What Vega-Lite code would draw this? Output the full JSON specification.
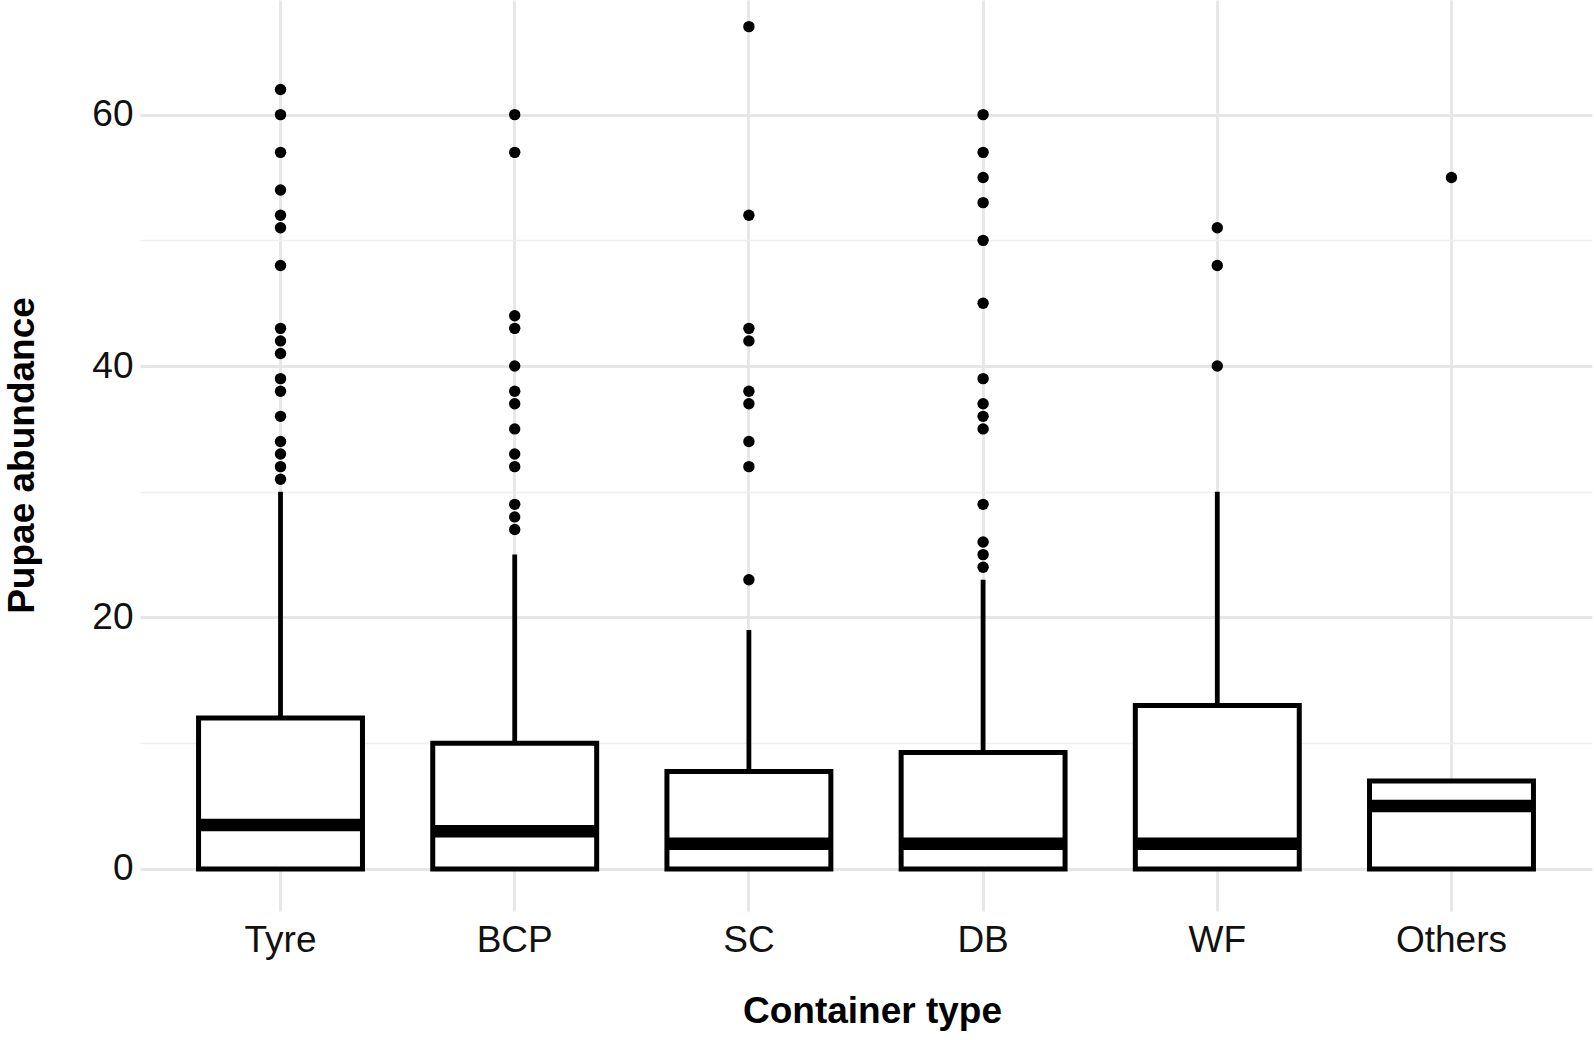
{
  "$schema": "https://vega.github.io/schema/vega-lite/v6.json",
  "autosize": {"type": "none"},
  "padding": {"left": 140, "top": 0, "right": 2, "bottom": 129},
  "width": 1452,
  "height": 911,
  "background": "white",
  "config": {
    "view": {"stroke": null},
    "font": "Liberation Sans"
  },
  "datasets": {
    "stats": [
      {"type": "Tyre", "lower": 0, "q1": 0, "median": 3.5, "q3": 12, "upper": 30},
      {"type": "BCP", "lower": 0, "q1": 0, "median": 3, "q3": 10, "upper": 25},
      {"type": "SC", "lower": 0, "q1": 0, "median": 2, "q3": 7.75, "upper": 19},
      {"type": "DB", "lower": 0, "q1": 0, "median": 2, "q3": 9.25, "upper": 23},
      {"type": "WF", "lower": 0, "q1": 0, "median": 2, "q3": 13, "upper": 30},
      {"type": "Others", "lower": 0, "q1": 0, "median": 5, "q3": 7, "upper": 7}
    ],
    "outliers": [
      {"type": "Tyre", "value": 62}, {"type": "Tyre", "value": 60}, {"type": "Tyre", "value": 57},
      {"type": "Tyre", "value": 54}, {"type": "Tyre", "value": 52}, {"type": "Tyre", "value": 51},
      {"type": "Tyre", "value": 48}, {"type": "Tyre", "value": 43}, {"type": "Tyre", "value": 42},
      {"type": "Tyre", "value": 41}, {"type": "Tyre", "value": 39}, {"type": "Tyre", "value": 38},
      {"type": "Tyre", "value": 36}, {"type": "Tyre", "value": 34}, {"type": "Tyre", "value": 33},
      {"type": "Tyre", "value": 32}, {"type": "Tyre", "value": 31},
      {"type": "BCP", "value": 60}, {"type": "BCP", "value": 57}, {"type": "BCP", "value": 44},
      {"type": "BCP", "value": 43}, {"type": "BCP", "value": 40}, {"type": "BCP", "value": 38},
      {"type": "BCP", "value": 37}, {"type": "BCP", "value": 35}, {"type": "BCP", "value": 33},
      {"type": "BCP", "value": 32}, {"type": "BCP", "value": 29}, {"type": "BCP", "value": 28},
      {"type": "BCP", "value": 27},
      {"type": "SC", "value": 67}, {"type": "SC", "value": 52}, {"type": "SC", "value": 43},
      {"type": "SC", "value": 42}, {"type": "SC", "value": 38}, {"type": "SC", "value": 37},
      {"type": "SC", "value": 34}, {"type": "SC", "value": 32}, {"type": "SC", "value": 23},
      {"type": "DB", "value": 60}, {"type": "DB", "value": 57}, {"type": "DB", "value": 55},
      {"type": "DB", "value": 53}, {"type": "DB", "value": 50}, {"type": "DB", "value": 45},
      {"type": "DB", "value": 39}, {"type": "DB", "value": 37}, {"type": "DB", "value": 36},
      {"type": "DB", "value": 35}, {"type": "DB", "value": 29}, {"type": "DB", "value": 26},
      {"type": "DB", "value": 25}, {"type": "DB", "value": 24},
      {"type": "WF", "value": 51}, {"type": "WF", "value": 48}, {"type": "WF", "value": 40},
      {"type": "Others", "value": 55}
    ]
  },
  "encoding": {
    "x": {
      "field": "type",
      "type": "nominal",
      "scale": {
        "type": "band",
        "domain": ["Tyre", "BCP", "SC", "DB", "WF", "Others"],
        "paddingInner": 0,
        "paddingOuter": 0.1
      },
      "axis": {
        "title": "Container type",
        "titleFont": "Liberation Sans",
        "titleFontSize": 37,
        "titleFontWeight": "bold",
        "titleColor": "#000000",
        "titleBaseline": "middle",
        "titleAlign": "center",
        "titleX": 732,
        "titleY": 100,
        "labelFont": "Liberation Sans",
        "labelFontSize": 37,
        "labelColor": "#111111",
        "labelAngle": 0,
        "labelBaseline": "middle",
        "labelPadding": 29,
        "ticks": false,
        "domain": false,
        "grid": true,
        "bandPosition": 0.5,
        "gridColor": "#E6E6E6",
        "gridWidth": 2.8
      }
    }
  },
  "layer": [
    {
      "data": {"name": "stats"},
      "mark": {"type": "rule", "color": "black", "strokeWidth": 4.8, "strokeCap": "butt"},
      "encoding": {
        "y": {
          "field": "q3",
          "type": "quantitative",
          "scale": {"domain": [-3.35, 69.12], "nice": false, "zero": false},
          "axis": {
            "title": "Pupae abundance",
            "titleFont": "Liberation Sans",
            "titleFontSize": 37,
            "titleFontWeight": "bold",
            "titleColor": "#000000",
            "titleAngle": -90,
            "titleAlign": "center",
            "titleBaseline": "middle",
            "titleX": -118,
            "titleY": 455,
            "values": [0, 10, 20, 30, 40, 50, 60],
            "labelExpr": "datum.value % 20 === 0 ? datum.label : ''",
            "labelFont": "Liberation Sans",
            "labelFontSize": 37,
            "labelColor": "#111111",
            "labelBaseline": "middle",
            "labelPadding": 7,
            "ticks": false,
            "domain": false,
            "grid": true,
            "gridColor": {"condition": {"test": "datum.value % 20 === 0", "value": "#E6E6E6"}, "value": "#EFEFEF"},
            "gridWidth": {"condition": {"test": "datum.value % 20 === 0", "value": 2.8}, "value": 1.5}
          }
        },
        "y2": {"field": "upper"}
      }
    },
    {
      "data": {"name": "stats"},
      "mark": {"type": "rule", "color": "black", "strokeWidth": 4.8, "strokeCap": "butt"},
      "encoding": {
        "y": {"field": "lower", "type": "quantitative"},
        "y2": {"field": "q1"}
      }
    },
    {
      "data": {"name": "stats"},
      "mark": {"type": "bar", "fill": "white", "stroke": "black", "strokeWidth": 5, "width": {"band": 0.7}},
      "encoding": {
        "y": {"field": "q1", "type": "quantitative"},
        "y2": {"field": "q3"}
      }
    },
    {
      "data": {"name": "stats"},
      "mark": {"type": "tick", "color": "black", "opacity": 1, "size": 164, "thickness": 12.5},
      "encoding": {
        "y": {"field": "median", "type": "quantitative"}
      }
    },
    {
      "data": {"name": "outliers"},
      "mark": {"type": "point", "filled": true, "color": "black", "opacity": 1, "size": 130},
      "encoding": {
        "y": {"field": "value", "type": "quantitative"}
      }
    }
  ]
}
